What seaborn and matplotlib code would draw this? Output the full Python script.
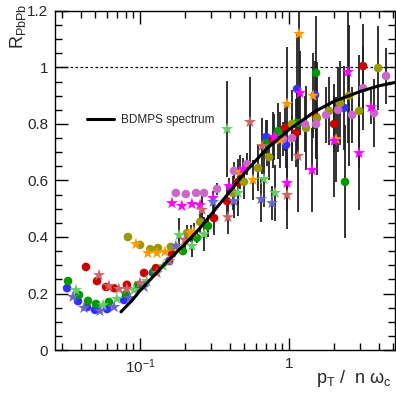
import numpy as np
import pandas as pd
import matplotlib
matplotlib.use("Agg")
import matplotlib.pyplot as plt
from matplotlib.ticker import FixedLocator, NullFormatter, MultipleLocator
import seaborn as sns

# ---- data ----
blue_c_x = [0.0324, 0.0384, 0.0441, 0.0499, 0.0601, 0.0781, 0.0969, 0.122, 0.157, 0.701, 0.955, 1.132, 1.494, 2.338]
blue_c_y = [0.219, 0.173, 0.152, 0.142, 0.145, 0.177, 0.219, 0.273, 0.315, 0.754, 0.726, 0.924, 0.903, 0.857]
blue_c_e = [0, 0, 0, 0, 0, 0, 0, 0, 0.01, 0.06, 0.08, 0.2, 0.12, 0.15]

green_c_x = [0.0329, 0.039, 0.0448, 0.0507, 0.0619, 0.0805, 0.0969, 0.124, 0.194, 0.241, 0.286, 0.712, 0.844, 1.132, 1.518, 2.375]
green_c_y = [0.244, 0.195, 0.174, 0.163, 0.170, 0.198, 0.230, 0.278, 0.350, 0.397, 0.439, 0.733, 0.775, 0.804, 0.981, 0.595]
green_c_e = [0, 0, 0, 0, 0, 0, 0, 0, 0.01, 0.02, 0.04, 0.08, 0.1, 0.12, 0.2, 0.2]

red_c_x = [0.0434, 0.0515, 0.0592, 0.0669, 0.0817, 0.1065, 0.128, 0.164, 0.314, 0.384, 0.455, 0.781, 0.94, 1.114, 1.518, 2.005, 3.14]
red_c_y = [0.294, 0.244, 0.223, 0.219, 0.231, 0.273, 0.290, 0.340, 0.467, 0.527, 0.595, 0.743, 0.786, 0.768, 0.825, 0.80, 1.005]
red_c_e = [0, 0, 0, 0, 0, 0, 0, 0.01, 0.06, 0.06, 0.08, 0.1, 0.08, 0.12, 0.15, 0.1, 0.15]

olive_c_x = [0.083, 0.10, 0.117, 0.132, 0.161, 0.207, 0.253, 0.421, 0.498, 0.619, 0.734, 1.047, 1.30, 1.541, 1.855, 2.2, 2.528, 2.949, 3.96]
olive_c_y = [0.40, 0.372, 0.357, 0.361, 0.365, 0.414, 0.453, 0.556, 0.595, 0.644, 0.683, 0.80, 0.786, 0.821, 0.846, 0.874, 0.90, 0.846, 0.998]
olive_c_e = [0, 0, 0, 0, 0, 0.03, 0.04, 0.06, 0.06, 0.08, 0.08, 0.12, 0.15, 0.2, 0.12, 0.15, 0.25, 0.2, 0.15]

violet_c_x = [0.174, 0.203, 0.238, 0.269, 0.329, 0.427, 0.522, 0.911, 1.047, 1.28, 1.518, 1.771, 2.133, 2.646, 3.14, 3.72, 4.48]
violet_c_y = [0.556, 0.552, 0.556, 0.556, 0.570, 0.634, 0.658, 0.747, 0.75, 0.80, 0.80, 0.832, 0.85, 0.832, 0.927, 0.839, 0.97]
violet_c_e = [0, 0, 0, 0, 0.02, 0.03, 0.04, 0.06, 0.08, 0.1, 0.12, 0.1, 0.15, 0.1, 0.15, 0.12, 0.1]

orange_s_x = [0.094, 0.113, 0.130, 0.147, 0.180, 0.220, 0.230, 0.469, 0.573, 0.870, 0.970, 1.167, 1.449, 2.068]
orange_s_y = [0.375, 0.343, 0.343, 0.347, 0.361, 0.414, 0.418, 0.630, 0.602, 0.743, 0.871, 1.119, 0.90, 0.746]
orange_s_e = [0, 0, 0, 0, 0.01, 0.03, 0.03, 0.06, 0.07, 0.1, 0.2, 0.3, 0.15, 0.15]

magenta_s_x = [0.164, 0.191, 0.223, 0.253, 0.309, 0.396, 0.491, 0.793, 0.970, 1.185, 1.427, 2.005, 2.489, 2.949, 3.55]
magenta_s_y = [0.520, 0.510, 0.517, 0.513, 0.538, 0.58, 0.64, 0.754, 0.591, 0.91, 0.637, 0.740, 0.984, 0.697, 0.860]
magenta_s_e = [0, 0, 0, 0, 0.02, 0.03, 0.04, 0.08, 0.1, 0.15, 0.15, 0.2, 0.25, 0.2, 0.06]

lgreen_s_x = [0.0372, 0.0565, 0.0701, 0.0912, 0.111, 0.143, 0.183, 0.223, 0.269, 0.384, 0.455, 0.679, 0.806]
lgreen_s_y = [0.212, 0.159, 0.181, 0.212, 0.244, 0.297, 0.407, 0.368, 0.41, 0.782, 0.556, 0.605, 0.556]
lgreen_s_e = [0, 0, 0, 0, 0, 0, 0.06, 0.04, 0.06, 0.17, 0.08, 0.1, 0.1]

salmon_s_x = [0.0531, 0.0619, 0.0722, 0.0817, 0.100, 0.130, 0.157, 0.200, 0.261, 0.389, 0.547, 0.659, 0.970, 1.149]
salmon_s_y = [0.265, 0.227, 0.216, 0.216, 0.237, 0.273, 0.315, 0.39, 0.496, 0.47, 0.807, 0.722, 0.549, 0.687]
salmon_s_e = [0, 0, 0, 0, 0, 0, 0, 0.03, 0.05, 0.06, 0.16, 0.1, 0.12, 0.2]

slate_s_x = [0.0355, 0.0421, 0.0539, 0.0669, 0.0855, 0.1065, 0.174, 0.309, 0.427, 0.649, 0.769]
slate_s_y = [0.188, 0.149, 0.138, 0.152, 0.184, 0.223, 0.368, 0.524, 0.527, 0.534, 0.52]
slate_s_e = [0, 0, 0, 0, 0, 0, 0.01, 0.04, 0.06, 0.08, 0.06]

curve_x = [0.0745, 0.09, 0.1, 0.125, 0.15, 0.2, 0.253, 0.3, 0.4, 0.5, 0.7, 1.0, 1.5, 2.0, 3.0, 4.0, 5.14]
curve_y = [0.135, 0.18, 0.21, 0.265, 0.31, 0.375, 0.432, 0.48, 0.56, 0.625, 0.71, 0.78, 0.845, 0.88, 0.915, 0.935, 0.947]

series = [
    ("blue_c", "o", "#3030ff", blue_c_x, blue_c_y, blue_c_e),
    ("green_c", "o", "#009a00", green_c_x, green_c_y, green_c_e),
    ("red_c", "o", "#cc0000", red_c_x, red_c_y, red_c_e),
    ("olive_c", "o", "#999900", olive_c_x, olive_c_y, olive_c_e),
    ("violet_c", "o", "#cc66cc", violet_c_x, violet_c_y, violet_c_e),
    ("orange_s", "*", "#ff9900", orange_s_x, orange_s_y, orange_s_e),
    ("magenta_s", "*", "#ff00ff", magenta_s_x, magenta_s_y, magenta_s_e),
    ("lgreen_s", "*", "#66cc66", lgreen_s_x, lgreen_s_y, lgreen_s_e),
    ("salmon_s", "*", "#cc6666", salmon_s_x, salmon_s_y, salmon_s_e),
    ("slate_s", "*", "#6666cc", slate_s_x, slate_s_y, slate_s_e),
]

frames = []
for name, mk, col, xs, ys, es in series:
    frames.append(pd.DataFrame({"x": xs, "y": ys, "err": es, "series": name, "marker": mk}))
df = pd.concat(frames, ignore_index=True)
palette = {s[0]: s[2] for s in series}

# ---- style ----
sns.set_style("ticks")
plt.rcParams["font.family"] = ["Liberation Sans", "DejaVu Sans"]
plt.rcParams["mathtext.fontset"] = "custom"
plt.rcParams["mathtext.rm"] = "Liberation Sans"
plt.rcParams["mathtext.it"] = "Liberation Sans:italic"

fig = plt.figure(figsize=(3.96, 3.95), dpi=100)
ax = fig.add_axes([55 / 396, 1 - 350 / 395, 340 / 396, 339 / 395])

ax.axhline(1.0, color="black", ls=(0, (2, 2)), lw=0.9, zorder=1)

for name, mk, col, xs, ys, es in series:
    sub = df[df["series"] == name]
    ax.errorbar(sub["x"], sub["y"], yerr=sub["err"], fmt="none",
                ecolor="#222222", elinewidth=1.3, capsize=0, zorder=2)

circ = df[df["marker"] == "o"]
stars = df[df["marker"] == "*"]
sns.scatterplot(data=circ, x="x", y="y", hue="series", palette=palette,
                marker="o", s=38, linewidth=0, legend=False, ax=ax, zorder=3)
sns.scatterplot(data=stars, x="x", y="y", hue="series", palette=palette,
                marker="*", s=85, linewidth=0, legend=False, ax=ax, zorder=3)

sns.lineplot(x=curve_x, y=curve_y, color="black", lw=2.2, sort=False,
             label="BDMPS spectrum", ax=ax, zorder=4)

ax.set_xscale("log")
ax.set_xlim(0.0269, 5.14)
ax.set_ylim(0, 1.2)

ax.xaxis.set_major_locator(FixedLocator([0.1, 1]))
ax.set_xticklabels([r"$\mathrm{10^{-1}}$", "1"])
ax.xaxis.set_minor_locator(FixedLocator([0.03, 0.04, 0.05, 0.06, 0.07, 0.08, 0.09,
                                         0.2, 0.3, 0.4, 0.5, 0.6, 0.7, 0.8, 0.9, 2, 3, 4, 5]))
ax.xaxis.set_minor_formatter(NullFormatter())
ax.yaxis.set_major_locator(MultipleLocator(0.2))
ax.yaxis.set_minor_locator(MultipleLocator(0.05))
ax.set_yticks([0, 0.2, 0.4, 0.6, 0.8, 1.0, 1.2])
ax.set_yticklabels(["0", "0.2", "0.4", "0.6", "0.8", "1", "1.2"])

ax.tick_params(which="both", direction="in", top=True, right=True, labelsize=11,
               width=1, color="black")
ax.tick_params(which="major", length=9, pad=5)
ax.tick_params(which="minor", length=5)
for sp in ax.spines.values():
    sp.set_linewidth(1)
    sp.set_color("black")

ax.set_xlabel("")
ax.set_ylabel("")
fig.text(0.02, 0.99, r"$\mathrm{R_{PbPb}}$", rotation=90, ha="left", va="top", fontsize=13)
fig.text(0.99, 0.015, r"$\mathrm{p_{T}\ /\ \ n\ ω_{c}}$", ha="right", va="bottom", fontsize=13)

ax.legend(loc="center left", bbox_to_anchor=(0.094, 0.678), frameon=False,
          fontsize=8.5, handlelength=2.3, handletextpad=0.6, borderpad=0, borderaxespad=0)

fig.savefig("out.png", dpi=100)
